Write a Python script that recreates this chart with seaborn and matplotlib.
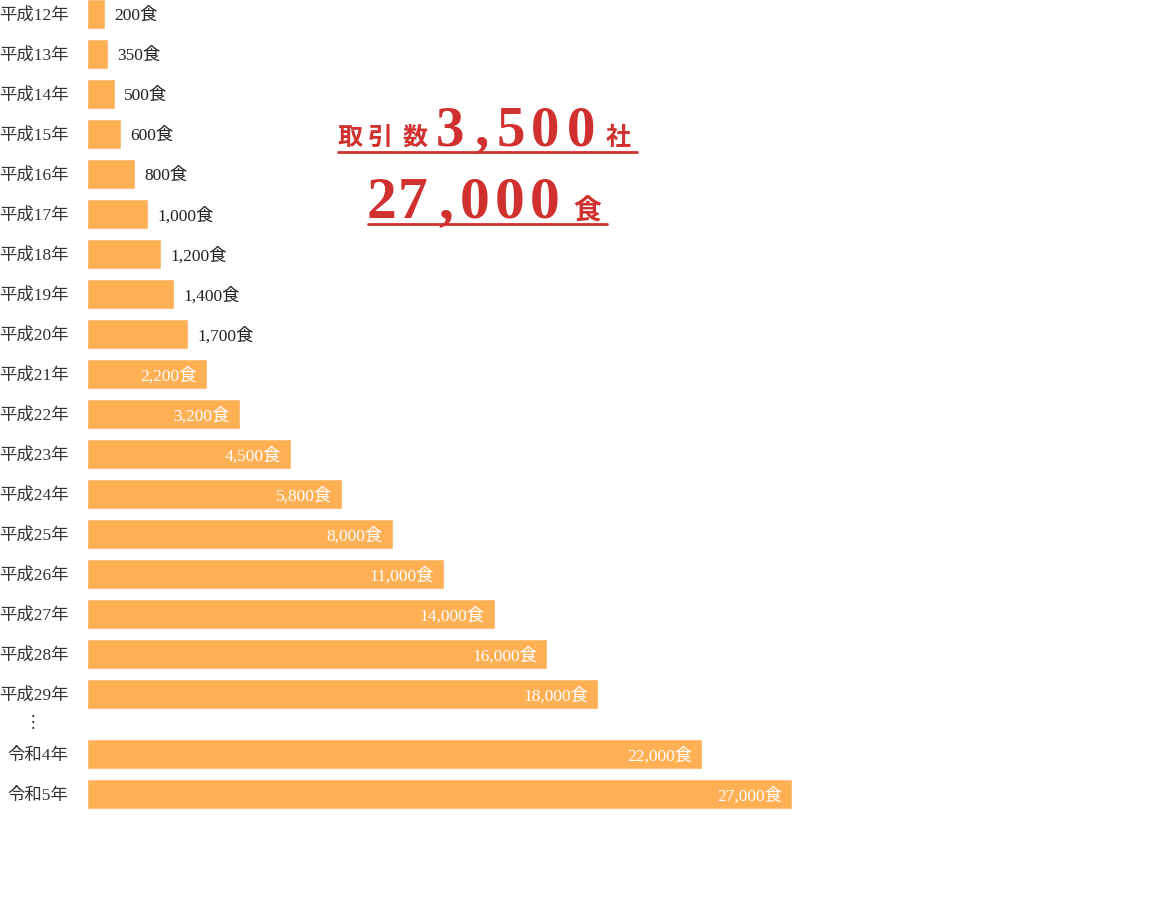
import matplotlib
matplotlib.use("Agg")
import matplotlib.pyplot as plt
from matplotlib.lines import Line2D
import seaborn as sns

# ---- data ----
years = ["平成12年", "平成13年", "平成14年", "平成15年", "平成16年", "平成17年",
         "平成18年", "平成19年", "平成20年", "平成21年", "平成22年", "平成23年",
         "平成24年", "平成25年", "平成26年", "平成27年", "平成28年", "平成29年",
         "令和4年", "令和5年"]
meals = [200, 350, 500, 600, 800, 1000, 1200, 1400, 1700, 2200, 3200, 4500,
         5800, 8000, 11000, 14000, 16000, 18000, 22000, 27000]
# drawn bar lengths as measured on the picture (not proportional to meals)
bar_lengths = [18, 21, 28, 34, 48, 61, 74, 87, 101, 120, 153, 204, 255, 306,
               357, 408, 460, 511, 615, 705]
row_pos = list(range(18)) + [18.5, 19.5]
headline_1 = ["取", "引", "数", "3", ",", "5", "0", "0", "社"]
headline_2 = ["2", "7", ",", "0", "0", "0", "食"]

# ---- style ----
sns.set_style("white")
SERIF_CJK = ["Liberation Serif", "Noto Sans CJK JP"]
plt.rcParams["font.family"] = SERIF_CJK
BAR = "#FFB055"
RED = "#D0312F"
W, H = 1163, 900
FS = 12.5

fig = plt.figure(figsize=(W / 100, H / 100), dpi=100)
left_px = 87
ax = fig.add_axes([left_px / W, 0, (W - left_px) / W, 1])

sns.barplot(x=bar_lengths, y=row_pos, orient="h", native_scale=True,
            width=0.75, color=BAR, saturation=1, ax=ax)

ax.set_xlim(0, W - left_px)
ax.set_ylim((H - 14) / 40, -14 / 40)
ax.set_yticks(row_pos)
ax.set_yticklabels(years, fontsize=FS, color="#333333")
ax.tick_params(axis="y", length=0, pad=13.5)
ax.set_xticks([])
ax.set_xlabel("")
ax.set_ylabel("")
for s in ax.spines.values():
    s.set_visible(False)

# value labels
for y, L, v in zip(row_pos, bar_lengths, meals):
    lab = f"{v:,}食"
    if v >= 2000:
        ax.text(L - 10, y, lab, ha="right", va="center_baseline", fontsize=FS,
                color="white")
    else:
        ax.text(L + 9, y, lab, ha="left", va="center_baseline", fontsize=FS,
                color="#222222")

# vertical ellipsis between the two eras
fig.text(33 / W, 1 - 722 / H, "⋮", ha="center", va="center", fontsize=12,
         color="#333333", family=["DejaVu Sans", "Noto Sans CJK JP"])


def px(x, y):
    return x / W, 1 - y / H


# headline line 1
centers_1 = [350, 380, 415, 450.5, 481, 510.5, 545, 581.5, 618.5]
for ch, cx in zip(headline_1, centers_1):
    if ch.isdigit() or ch == ",":
        fig.text(*px(cx, 145), ch, ha="center", va="baseline", fontsize=41,
                 fontweight="bold", color=RED, family=["Liberation Serif"])
    else:
        fig.text(*px(cx, 145), ch, ha="center", va="baseline", fontsize=18,
                 fontweight="bold", color=RED, family=["Noto Sans CJK JP"])
fig.add_artist(Line2D([338 / W, 637 / W], [1 - 152 / H, 1 - 152 / H],
                      color=RED, lw=2, transform=fig.transFigure))

# headline line 2
centers_2 = [381.5, 412.5, 446, 474.5, 509.5, 545, 587.5]
for ch, cx in zip(headline_2, centers_2):
    if ch.isdigit() or ch == ",":
        fig.text(*px(cx, 218), ch, ha="center", va="baseline", fontsize=43,
                 fontweight="bold", color=RED, family=["Liberation Serif"])
    else:
        fig.text(*px(cx, 220), ch, ha="center", va="baseline", fontsize=20,
                 fontweight="bold", color=RED, family=["Noto Sans CJK JP"])
fig.add_artist(Line2D([368 / W, 607 / W], [1 - 224 / H, 1 - 224 / H],
                      color=RED, lw=2, transform=fig.transFigure))

fig.savefig("out.png", dpi=100, facecolor="white")
